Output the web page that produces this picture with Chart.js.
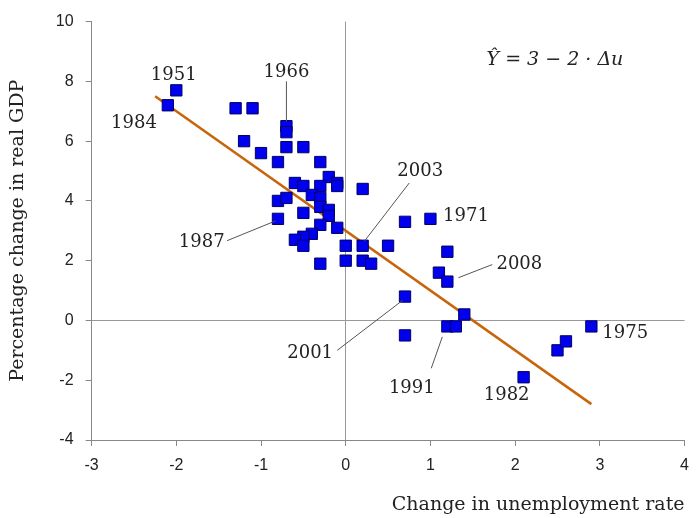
<!DOCTYPE html>
<html><head><meta charset="utf-8">
<script src="https://cdn.jsdelivr.net/npm/chart.js@4"></script>
<style>html,body{margin:0;background:#fff}#wrap{width:699px;height:518px}</style>
</head><body><div id="wrap"><canvas id="c"></canvas></div>
<script>
// data points (change in unemployment, % change in real GDP)
const xs = [-2.1,-2.0,-1.3,-1.1,-1.2,-1.0,-0.8,-0.7,-0.7,-0.7,-0.5,-0.3,-0.2,-0.1,-0.1,-0.6,-0.5,-0.3,-0.4,-0.3,-0.3,-0.2,-0.2,-0.8,-0.7,-0.8,-0.5,-0.3,-0.1,-0.4,-0.5,-0.6,-0.5,0.0,0.2,0.5,0.2,0.7,-0.3,0.0,0.2,0.3,1.0,1.2,1.1,1.2,0.7,0.7,1.2,1.3,1.4,2.1,2.5,2.6,2.9];
const ys = [7.2,7.7,7.1,7.1,6.0,5.6,5.3,6.5,6.3,5.8,5.8,5.3,4.8,4.6,4.5,4.6,4.5,4.5,4.2,4.1,3.8,3.7,3.5,4.0,4.1,3.4,3.6,3.2,3.1,2.9,2.8,2.7,2.5,2.5,2.5,2.5,4.4,3.3,1.9,2.0,2.0,1.9,3.4,2.3,1.6,1.3,0.8,-0.5,-0.2,-0.2,0.2,-1.9,-1.0,-0.7,-0.2];
const fitX = [-2.25, 2.9];
const xTicks = [-3,-2,-1,0,1,2,3,4];
const yTicks = [-4,-2,0,2,4,6,8,10];
// year labels: text, x, y, leader line (x1,y1,x2,y2) or null
const labelText = ['1951','1984','1966','2003','1971','1987','2008','2001','1991','1982','1975'];
const labelPos = [[-2.03,8.2],[-2.5,6.6],[-0.7,8.3],[0.88,5.0],[1.42,3.47],[-1.7,2.63],[2.05,1.87],[-0.42,-1.1],[0.78,-2.27],[1.9,-2.5],[3.3,-0.43]];
const leaders = [null,null,[-0.7,8.0,-0.7,6.65],[0.75,4.6,0.22,2.65],null,[-1.4,2.67,-0.83,3.33],[1.33,1.43,1.73,1.87],[-0.1,-1.0,0.67,0.67],[1.01,-1.6,1.14,-0.55],null,null];

const annot = {
  id: 'annot',
  afterDatasetsDraw(ch) {
    const c = ch.ctx, sx = ch.scales.x, sy = ch.scales.y;
    c.save();
    c.strokeStyle = '#555'; c.lineWidth = 1;
    leaders.forEach(l => {
      if (!l) return;
      c.beginPath();
      c.moveTo(sx.getPixelForValue(l[0]), sy.getPixelForValue(l[1]));
      c.lineTo(sx.getPixelForValue(l[2]), sy.getPixelForValue(l[3]));
      c.stroke();
    });
    c.fillStyle = '#222'; c.font = '18px "DejaVu Serif", serif';
    c.textAlign = 'center'; c.textBaseline = 'middle';
    labelText.forEach((t, i) => c.fillText(t, sx.getPixelForValue(labelPos[i][0]), sy.getPixelForValue(labelPos[i][1])));
    c.font = 'italic 19px "DejaVu Serif", serif';
    c.fillText('Ŷ = 3 − 2 · Δu', sx.getPixelForValue(2.47), sy.getPixelForValue(8.7));
    c.restore();
  }
};

new Chart(document.getElementById('c'), {
  type: 'scatter',
  data: {
    datasets: [{
      data: xs.map((x, i) => ({x: x, y: ys[i]})),
      pointStyle: 'rect', pointRadius: 8, pointHoverRadius: 8,
      backgroundColor: '#0000ee', borderColor: '#000066', borderWidth: 1, order: 1
    }, {
      type: 'line',
      data: fitX.map(x => ({x: x, y: 3 - 2 * x})),
      borderColor: '#c8650a', borderWidth: 2.5, pointRadius: 0, order: 2
    }]
  },
  options: {
    responsive: true, maintainAspectRatio: false, animation: false,
    layout: {padding: {top: 14, right: 5, bottom: 0, left: 3}},
    plugins: {legend: {display: false}, tooltip: {enabled: false}},
    scales: {
      x: {
        min: -3, max: 4,
        afterBuildTicks: a => { a.ticks = xTicks.map(v => ({value: v})); },
        grid: {color: c => c.tick && c.tick.value === 0 ? '#999' : 'transparent', tickLength: 6, tickColor: '#888'},
        border: {color: '#888'},
        ticks: {color: '#222', padding: 10, font: {size: 16, family: 'Liberation Sans'}},
        title: {display: true, text: 'Change in unemployment rate', align: 'end', color: '#222', font: {size: 19, family: '"DejaVu Serif", serif'}, padding: {top: 8, bottom: 2}}
      },
      y: {
        min: -4, max: 10,
        afterBuildTicks: a => { a.ticks = yTicks.map(v => ({value: v})); },
        grid: {color: c => c.tick && c.tick.value === 0 ? '#999' : 'transparent', tickLength: 6, tickColor: '#888'},
        border: {color: '#888'},
        ticks: {color: '#222', padding: 12, font: {size: 16, family: 'Liberation Sans'}},
        title: {display: true, text: 'Percentage change in real GDP', color: '#222', font: {size: 19, family: '"DejaVu Serif", serif'}, padding: {bottom: 14}}
      }
    }
  },
  plugins: [annot]
});
</script></body></html>
